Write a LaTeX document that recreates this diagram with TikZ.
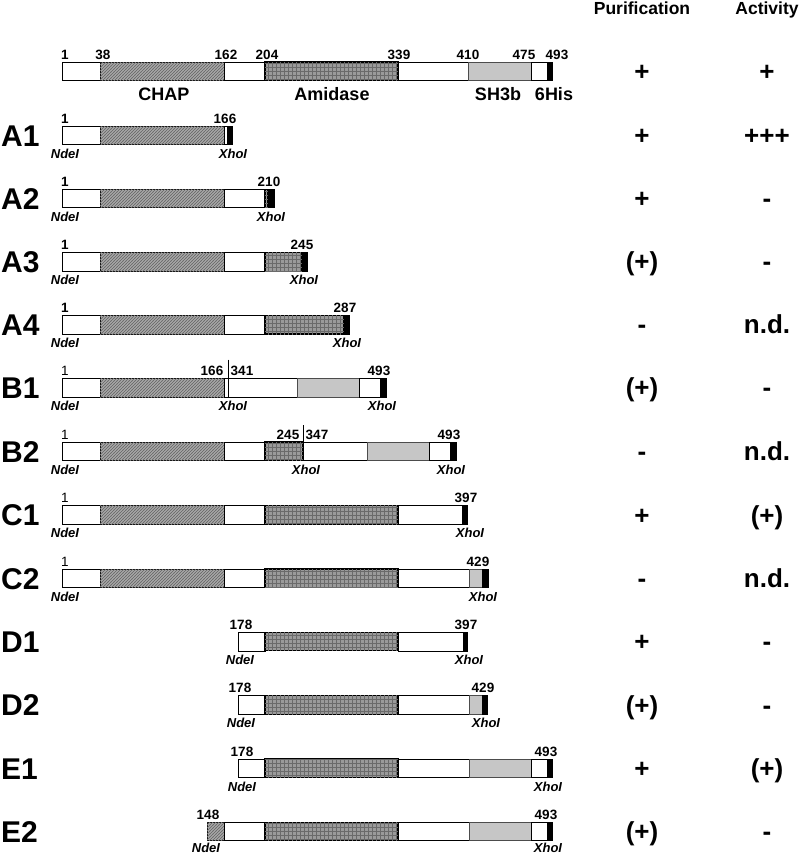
\documentclass[tikz,border=0pt]{standalone}
\usepackage{fontspec}
\usetikzlibrary{patterns}
\setmainfont{Liberation Sans}
\definecolor{chapc}{HTML}{B4B4B4}
\definecolor{chapl}{HTML}{6E6E6E}
\definecolor{amic}{HTML}{9A9A9A}
\definecolor{amil}{HTML}{6A6A6A}
\definecolor{shc}{HTML}{C6C6C6}
\pgfdeclarepatternformonly{finehatch}{\pgfpoint{-0.5pt}{-0.5pt}}{\pgfpoint{3.5pt}{3.5pt}}{\pgfpoint{3pt}{3pt}}%
{\pgfsetlinewidth{0.8pt}\pgfpathmoveto{\pgfpoint{-0.2pt}{-0.2pt}}\pgfpathlineto{\pgfpoint{3.2pt}{3.2pt}}\pgfusepath{stroke}}
\pgfdeclarepatternformonly{finegrid}{\pgfpoint{-0.5pt}{-0.5pt}}{\pgfpoint{4.5pt}{4.5pt}}{\pgfpoint{4pt}{4pt}}%
{\pgfsetlinewidth{0.6pt}\pgfpathmoveto{\pgfpoint{0pt}{0pt}}\pgfpathlineto{\pgfpoint{0pt}{4pt}}\pgfpathmoveto{\pgfpoint{0pt}{0pt}}\pgfpathlineto{\pgfpoint{4pt}{0pt}}\pgfusepath{stroke}}
\tikzset{
 seg/.style={draw=black,line width=0.8pt},
 wseg/.style={seg,fill=white},
 cseg/.style={seg,fill=chapc,postaction={pattern=finehatch,pattern color=chapl}},
 aseg/.style={seg,fill=amic,line width=1.1pt,postaction={pattern=finegrid,pattern color=amil}},
 sseg/.style={seg,fill=shc,draw=black!70},
 hseg/.style={seg,fill=black},
 num/.style={font=\bfseries\fontsize{13.5}{15}\selectfont,anchor=base,inner sep=0pt},
 numr/.style={font=\fontsize{13.5}{15}\selectfont,anchor=base,inner sep=0pt},
 site/.style={font=\bfseries\itshape\fontsize{13}{15}\selectfont,anchor=base,inner sep=0pt},
 rowlab/.style={font=\bfseries\fontsize{30}{32}\selectfont,anchor=base west,inner sep=0pt},
 sign/.style={font=\bfseries\fontsize{26}{28}\selectfont,anchor=base,inner sep=0pt},
 head/.style={font=\bfseries\fontsize{17.5}{19}\selectfont,anchor=base,inner sep=0pt},
 dom/.style={font=\bfseries\fontsize{18}{20}\selectfont,anchor=base,inner sep=0pt},
 cut/.style={draw=black,line width=0.8pt},
}
\newcommand\bx[3]{\path[#1] (#2,0) rectangle (#3,18.5);}
\newcommand\rowinfo[3]{%
 \node[rowlab] (lab#1) at (1,20) {#1};
 \node[sign] (pur#1) at (642,18.3) {#2};
 \node[sign] (act#1) at (767,18.3) {#3};}
\newcommand\ndesite[3][32]{\node[site] (nde#2) at (#3,#1) {NdeI};}

\begin{document}
\begin{tikzpicture}[x=1pt,y=-1pt]
\useasboundingbox[fill=white] (0,0) rectangle (800,855);
\node[head] (hpur) at (642,14) {Purification};
\node[head] (hact) at (767,14) {Activity};

% full length
\begin{scope}[shift={(0,62)}]
\bx{wseg}{62}{100}\bx{cseg}{100}{224}\bx{wseg}{224}{265}\bx{aseg}{265}{398}\bx{wseg}{398}{468}\bx{sseg}{468}{531}\bx{wseg}{531}{547}\bx{hseg}{547}{552}
\node[num] (t1) at (65,-3) {1};
\node[num] (t38) at (103,-3) {38};
\node[num] (t162) at (226,-3) {162};
\node[num] (t204) at (267,-3) {204};
\node[num] (t339) at (399,-3) {339};
\node[num] (t410) at (468,-3) {410};
\node[num] (t475) at (524,-3) {475};
\node[num] (t493) at (557,-3) {493};
\node[dom] (dchap) at (164,38) {CHAP};
\node[dom] (dami) at (332,38) {Amidase};
\node[dom] (dsh) at (498,38) {SH3b};
\node[dom] (dhis) at (554,38) {6His};
\node[sign] (purT) at (642,18) {+};
\node[sign] (actT) at (767,18) {+};
\end{scope}

% A1
\begin{scope}[shift={(0,126)}]
\bx{wseg}{62}{100}\bx{cseg}{100}{224}\bx{wseg}{224}{227}\bx{hseg}{227}{232}
\node[num] (a1s) at (65,-3) {1};
\node[num] (a1e) at (225,-3) {166};
\ndesite{A1}{65}
\node[site] (xhoA1) at (233,32) {XhoI};
\rowinfo{A1}{+}{+++}
\end{scope}

% A2
\begin{scope}[shift={(0,189.3)}]
\bx{wseg}{62}{100}\bx{cseg}{100}{224}\bx{wseg}{224}{265}\bx{aseg}{265}{268}\bx{hseg}{268}{274}
\node[num] (a2s) at (65,-3) {1};
\node[num] (a2e) at (269,-3) {210};
\ndesite{A2}{65}
\node[site] (xhoA2) at (271,32) {XhoI};
\rowinfo{A2}{+}{-}
\end{scope}

% A3
\begin{scope}[shift={(0,252.6)}]
\bx{wseg}{62}{100}\bx{cseg}{100}{224}\bx{wseg}{224}{265}\bx{aseg}{265}{302}\bx{hseg}{302}{307}
\node[num] (a3s) at (65,-3) {1};
\node[num] (a3e) at (302,-3) {245};
\ndesite{A3}{65}
\node[site] (xhoA3) at (304,32) {XhoI};
\rowinfo{A3}{(+)}{-}
\end{scope}

% A4
\begin{scope}[shift={(0,315.5)}]
\bx{wseg}{62}{100}\bx{cseg}{100}{224}\bx{wseg}{224}{265}\bx{aseg}{265}{344}\bx{hseg}{344}{349}
\node[num] (a4s) at (65,-3) {1};
\node[num] (a4e) at (345,-3) {287};
\ndesite{A4}{65}
\node[site] (xhoA4) at (347,32) {XhoI};
\rowinfo{A4}{-}{n.d.}
\end{scope}

% B1
\begin{scope}[shift={(0,378.5)}]
\bx{wseg}{62}{100}\bx{cseg}{100}{224}\bx{wseg}{224}{228}\bx{wseg}{228}{297}\bx{sseg}{297}{359}\bx{wseg}{359}{380}\bx{hseg}{380}{386}
\coordinate (b1cutT) at (228,-19);
\coordinate (b1cutB) at (228,18.5);
\draw[cut] (b1cutT) -- (b1cutB);
\node[numr] (b1s) at (65,-3) {1};
\node[num] (b1a) at (212,-3) {166};
\node[num] (b1b) at (242,-3) {341};
\node[num] (b1e) at (379,-3) {493};
\ndesite{B1}{65}
\node[site] (xhoB1a) at (233,32) {XhoI};
\node[site] (xhoB1b) at (382,32) {XhoI};
\rowinfo{B1}{(+)}{-}
\end{scope}

% B2
\begin{scope}[shift={(0,442)}]
\bx{wseg}{62}{100}\bx{cseg}{100}{224}\bx{wseg}{224}{265}\bx{aseg}{265}{303}\bx{wseg}{303}{367}\bx{sseg}{367}{429}\bx{wseg}{429}{450}\bx{hseg}{450}{456}
\coordinate (b2cutT) at (303,-17);
\coordinate (b2cutB) at (303,18.5);
\draw[cut] (b2cutT) -- (b2cutB);
\node[numr] (b2s) at (65,-3) {1};
\node[num] (b2a) at (288,-3) {245};
\node[num] (b2b) at (317,-3) {347};
\node[num] (b2e) at (449,-3) {493};
\ndesite{B2}{65}
\node[site] (xhoB2a) at (306,32) {XhoI};
\node[site] (xhoB2b) at (451,32) {XhoI};
\rowinfo{B2}{-}{n.d.}
\end{scope}

% C1
\begin{scope}[shift={(0,505.8)}]
\bx{wseg}{62}{100}\bx{cseg}{100}{224}\bx{wseg}{224}{265}\bx{aseg}{265}{398}\bx{wseg}{398}{462}\bx{hseg}{462}{467}
\node[numr] (c1s) at (65,-3) {1};
\node[num] (c1e) at (466,-3) {397};
\ndesite{C1}{65}
\node[site] (xhoC1) at (470,32) {XhoI};
\rowinfo{C1}{+}{(+)}
\end{scope}

% C2
\begin{scope}[shift={(0,569)}]
\bx{wseg}{62}{100}\bx{cseg}{100}{224}\bx{wseg}{224}{265}\bx{aseg}{265}{398}\bx{wseg}{398}{469}\bx{sseg}{469}{482}\bx{hseg}{482}{488}
\node[numr] (c2s) at (65,-3) {1};
\node[num] (c2e) at (478,-3) {429};
\ndesite{C2}{65}
\node[site] (xhoC2) at (483,32) {XhoI};
\rowinfo{C2}{-}{n.d.}
\end{scope}

% D1
\begin{scope}[shift={(0,632.4)}]
\bx{wseg}{238}{265}\bx{aseg}{265}{398}\bx{wseg}{398}{463}\bx{hseg}{463}{467}
\node[num] (d1s) at (241,-3) {178};
\node[num] (d1e) at (466,-3) {397};
\ndesite{D1}{240}
\node[site] (xhoD1) at (469,32) {XhoI};
\rowinfo{D1}{+}{-}
\end{scope}

% D2
\begin{scope}[shift={(0,695.7)}]
\bx{wseg}{238}{265}\bx{aseg}{265}{398}\bx{wseg}{398}{469}\bx{sseg}{469}{482}\bx{hseg}{482}{487}
\node[num] (d2s) at (240,-3) {178};
\node[num] (d2e) at (483,-3) {429};
\ndesite{D2}{241}
\node[site] (xhoD2) at (486,32) {XhoI};
\rowinfo{D2}{(+)}{-}
\end{scope}

% E1
\begin{scope}[shift={(0,759)}]
\bx{wseg}{238}{265}\bx{aseg}{265}{398}\bx{wseg}{398}{469}\bx{sseg}{469}{531}\bx{wseg}{531}{547}\bx{hseg}{547}{552}
\node[num] (e1s) at (242,-3) {178};
\node[num] (e1e) at (546,-3) {493};
\ndesite{E1}{242}
\node[site] (xhoE1) at (548,32) {XhoI};
\rowinfo{E1}{+}{(+)}
\end{scope}

% E2
\begin{scope}[shift={(0,822.3)}]
\bx{cseg}{207}{224}\bx{wseg}{224}{265}\bx{aseg}{265}{398}\bx{wseg}{398}{469}\bx{sseg}{469}{531}\bx{wseg}{531}{547}\bx{hseg}{547}{552}
\node[num] (e2s) at (208,-3) {148};
\node[num] (e2e) at (546,-3) {493};
\ndesite[30.5]{E2}{206}
\node[site] (xhoE2) at (548,30.5) {XhoI};
\rowinfo{E2}{(+)}{-}
\end{scope}
\end{tikzpicture}
\end{document}
